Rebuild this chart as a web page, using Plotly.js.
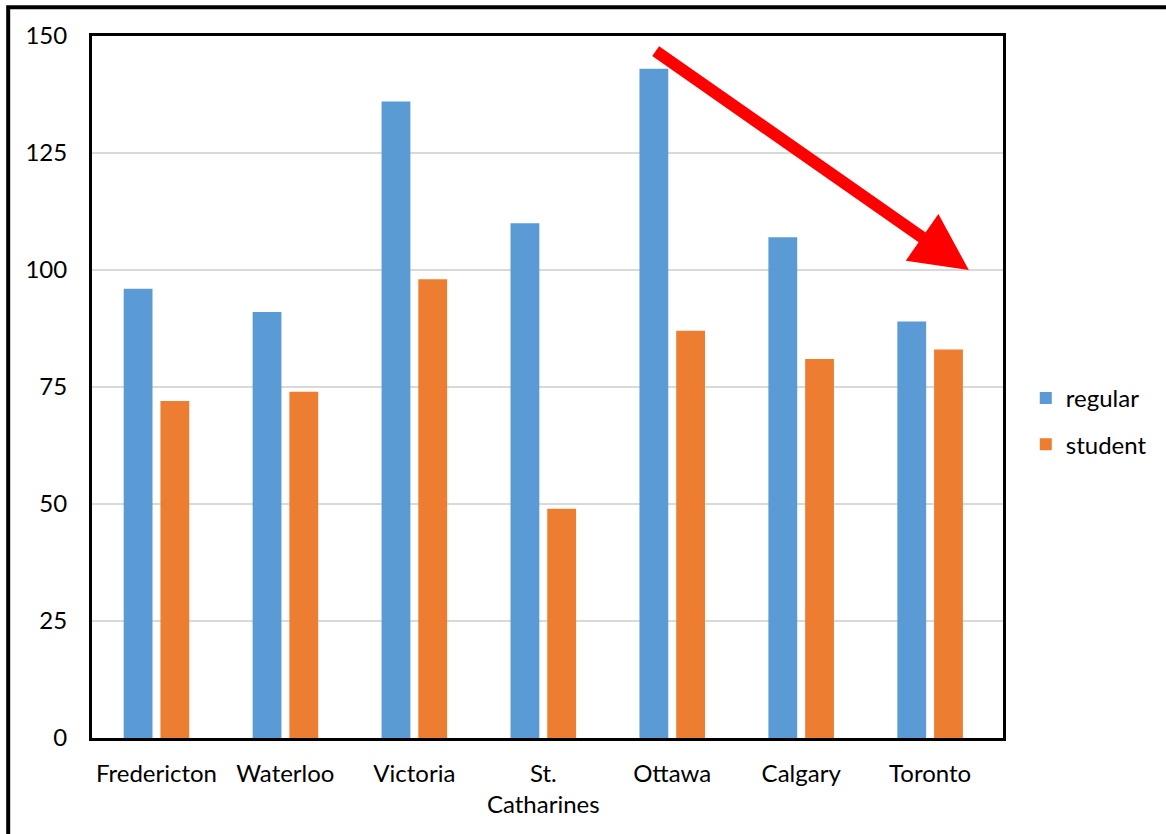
<!DOCTYPE html>
<html>
<head>
<meta charset="utf-8">
<script src="https://cdn.plot.ly/plotly-3.0.1.min.js"></script>
<style>html,body{margin:0;padding:0;background:#fff;}#chart{width:1166px;height:834px;}</style>
</head>
<body>
<div id="chart"></div>
<script>
var cities = ["Fredericton", "Waterloo", "Victoria", "St.<br>Catharines", "Ottawa", "Calgary", "Toronto"];
var regular = [96, 91, 136, 110, 143, 107, 89];
var student = [72, 74, 98, 49, 87, 81, 83];
var yTicks = [0, 25, 50, 75, 100, 125, 150];

var font = "Lato, 'Open Sans', sans-serif";

var traces = [
  {type: "bar", name: "regular", x: cities, y: regular, marker: {color: "#5b9bd5"}, legendgroup: "a"},
  {type: "bar", name: "student", x: cities, y: student, marker: {color: "#ed7d31"}, legendgroup: "b"}
];

var layout = {
  width: 1166, height: 834,
  margin: {l: 92, r: 163, t: 36, b: 96},
  paper_bgcolor: "#fff", plot_bgcolor: "#fff",
  barmode: "group", bargap: 0.43, bargroupgap: 0.216,
  font: {family: font, size: 24, color: "#000"},
  xaxis: {
    type: "category",
    showline: true, linecolor: "#000", linewidth: 3, mirror: true,
    ticks: "", ticklabelstandoff: 12,
    tickfont: {family: font, size: 24, color: "#000"},
    showgrid: false
  },
  yaxis: {
    range: [0, 150], tickvals: yTicks, ticktext: yTicks.map(String),
    showline: true, linecolor: "#000", linewidth: 3, mirror: true,
    showgrid: true, gridcolor: "#d9d9d9", gridwidth: 1.5,
    ticks: "", ticklabelstandoff: 17, zeroline: false,
    tickfont: {family: font, size: 24, color: "#000"}
  },
  legend: {
    x: 1.025, y: 0.451, xanchor: "left", yanchor: "middle",
    font: {family: font, size: 24, color: "#000"},
    tracegroupgap: 12, itemwidth: 30
  },
  showlegend: true,
  shapes: [
    {type: "rect", xref: "paper", yref: "paper", x0: -0.092, x1: 1.4, y0: -0.3, y1: 1.041,
     line: {color: "#000", width: 4}, fillcolor: "rgba(0,0,0,0)", layer: "above"}
  ],
  annotations: [
    {x: 6.3, y: 100, ax: 3.86, ay: 147, xref: "x", yref: "y", axref: "x", ayref: "y",
     text: "", showarrow: true, arrowhead: 2, arrowsize: 0.95, arrowwidth: 12, arrowcolor: "#ff0000"}
  ]
};

Plotly.newPlot("chart", traces, layout, {displayModeBar: false, staticPlot: true});
</script>
</body>
</html>
